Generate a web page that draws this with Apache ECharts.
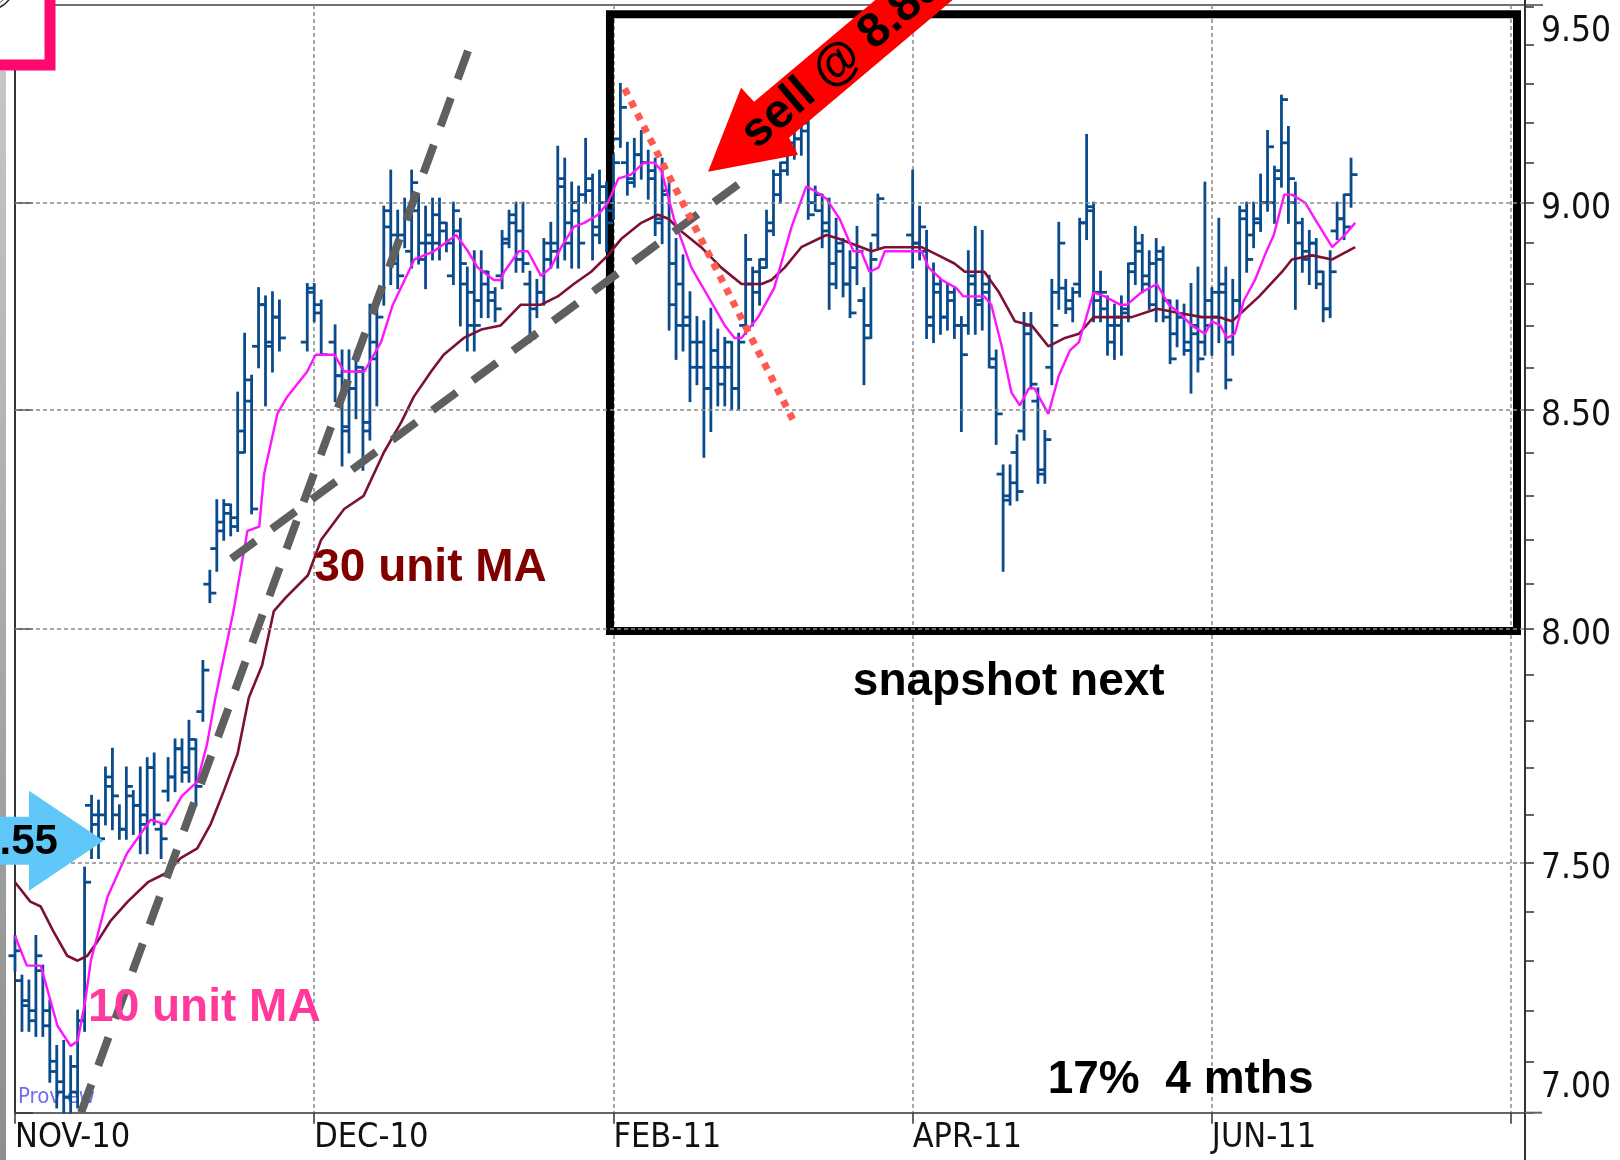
<!DOCTYPE html>
<html>
<head>
<meta charset="utf-8">
<title>ECharts</title>
<script src="https://cdn.jsdelivr.net/npm/echarts@6/dist/echarts.min.js"></script>
<style>
    html, body { margin: 0; padding: 0; background: #fff; }
    #main { width: 1620px; height: 1160px; }
</style>
</head>
<body>
<div id="main"></div>
<script type="text/javascript">
// x = bar number, a labelled tick every 43 bars
var tickLabels = ['NOV-10', 'DEC-10', 'FEB-11', 'APR-11', 'JUN-11'];
var tickStep = 43;
var barSlots = 217;
var priceLabels = [7.00, 7.50, 8.00, 8.50, 9.00, 9.50];
var priceGrid = [7.50, 8.00, 8.50, 9.00];
var priceMinorTicks = [7.0, 7.1, 7.2, 7.3, 7.4, 7.5, 7.6, 7.7, 7.8, 7.9, 8.0, 8.1, 8.2,
    8.3, 8.4, 8.5, 8.6, 8.7, 8.8, 8.9, 9.0, 9.1, 9.2, 9.3, 9.4, 9.5];

// price bars (null = no bar that day)
var opens = [7.31, 7.26, 7.22, 7.20, 7.28, 7.20, 7.10, 7.06, 7.03, 7.04, 7.18,
    7.62, 7.60, 7.60, 7.66, 7.60, 7.57, 7.64, 7.62, 7.58, 7.70, 7.57, 7.65, 7.68, 7.74, 7.70, 7.74,
    7.82, 8.10, 8.18, 8.22, 8.26, 8.25, 8.45, 8.52, 8.65, 8.75, 8.66, 8.72, null, null, null,
    8.66, 8.78, 8.73, null, 8.66, 8.58, 8.45, 8.55, 8.59, 8.47, 8.62, 8.78, 8.94, 8.92, 8.92,
    8.88, 8.98, 8.86, 8.90, 8.90, 8.93, 8.82, 8.93, 8.80, 8.78, 8.76, 8.80, 8.78, 8.82, 8.91,
    8.97, 8.93, 8.80, 8.74, 8.78, 8.86, 8.88, 9.04, 8.90, 8.98, 9.02, 9.03, 8.94, 9.00, 8.98,
    9.16, 9.10, 9.06, 9.12, 9.10, 9.08, 8.96, 9.02, 8.85, 8.80, 8.72, 8.66, 8.66, 8.55, 8.60,
    8.60, 8.60, 8.55, 8.70, 8.80, 8.78, 8.86, 8.95, 9.02, 9.10, 9.14, 9.16, 9.18, 9.00, 8.98,
    8.95, 8.85, 8.88, 8.80, 8.84, 8.76, 8.70, 8.92, null, null, null, null,
    8.92, 8.90, 8.88, 8.72, 8.78, 8.72, 8.76, 8.70, 8.70, 8.82, 8.76, 8.78, 8.60, 8.35, 8.30,
    8.40, 8.45, 8.70, 8.52, 8.36, 8.60, 8.78, 8.79, 8.74, 8.80, 8.95, 8.98, 8.78, 8.74, 8.66,
    8.70, 8.74, 8.85, 8.88, 8.80, 8.75, 8.86, 8.72, 8.68, 8.72, 8.64, 8.70, 8.66, 8.70, 8.72,
    8.80, 8.66, 8.76, 8.96, 8.92, 8.95, 9.00, 9.00, 9.08, 9.15, 9.00, 8.95, 8.86, 8.90, 8.80,
    8.74, 8.93, 8.96, 9.02];
var highs = [7.35, 7.27, 7.26, 7.35, 7.29, 7.22, 7.13, 7.14, 7.11, 7.20, 7.49,
    7.64, 7.63, 7.70, 7.74, 7.62, 7.70, 7.65, 7.70, 7.72, 7.73, 7.58, 7.72, 7.76, 7.76, 7.80, 7.76,
    7.93, 8.13, 8.29, 8.29, 8.28, 8.54, 8.68, 8.58, 8.79, 8.77, 8.78, 8.76, null, null, null,
    8.80, 8.80, 8.76, null, 8.70, 8.64, 8.64, 8.64, 8.60, 8.75, 8.76, 8.99, 9.08, 8.98, 9.01,
    9.08, 9.02, 8.99, 9.01, 9.01, 8.95, 9.00, 8.96, 8.84, 8.88, 8.88, 8.83, 8.79, 8.93, 8.98,
    9.00, 9.00, 8.83, 8.81, 8.91, 8.95, 9.14, 9.11, 9.05, 9.04, 9.16, 9.07, 9.08, 9.05, 9.12,
    9.30, 9.15, 9.16, 9.18, 9.13, 9.11, 9.11, 9.06, 8.91, 8.87, 8.78, 8.72, 8.71, 8.74, 8.69,
    8.67, 8.66, 8.68, 8.92, 8.84, 8.86, 8.98, 9.08, 9.10, 9.17, 9.19, 9.22, 9.22, 9.04, 9.02,
    9.01, 8.96, 8.91, 8.88, 8.94, 8.79, 8.90, 9.02, null, null, null, null,
    9.08, 8.99, 8.93, 8.85, 8.81, 8.80, 8.79, 8.72, 8.88, 8.94, 8.93, 8.82, 8.64, 8.37, 8.37,
    8.44, 8.73, 8.73, 8.55, 8.45, 8.81, 8.95, 8.81, 8.79, 8.96, 9.17, 9.00, 8.83, 8.77, 8.75,
    8.77, 8.85, 8.94, 8.92, 8.88, 8.91, 8.89, 8.76, 8.76, 8.75, 8.80, 8.84, 9.05, 8.79, 8.96,
    8.84, 8.81, 8.99, 9.00, 9.00, 9.07, 9.18, 9.09, 9.27, 9.19, 9.05, 8.96, 8.93, 8.91, 8.83,
    8.88, 9.00, 9.02, 9.11];
var lows = [7.28, 7.16, 7.16, 7.15, 7.15, 7.06, 7.01, 7.00, 7.00, 7.01, 7.16,
    7.51, 7.51, 7.58, 7.57, 7.55, 7.55, 7.56, 7.52, 7.52, 7.58, 7.51, 7.63, 7.65, 7.67, 7.67, 7.62,
    7.80, 8.06, 8.13, 8.20, 8.21, 8.22, 8.40, 8.26, 8.60, 8.51, 8.59, 8.64, null, null, null,
    8.64, 8.71, 8.63, null, 8.52, 8.37, 8.40, 8.48, 8.36, 8.43, 8.51, 8.75, 8.80, 8.79, 8.89,
    8.84, 8.85, 8.79, 8.86, 8.86, 8.88, 8.80, 8.70, 8.64, 8.64, 8.72, 8.72, 8.71, 8.79, 8.89,
    8.83, 8.83, 8.66, 8.72, 8.75, 8.84, 8.84, 8.86, 8.84, 8.84, 9.00, 8.86, 8.90, 8.88, 8.96,
    9.14, 9.02, 9.04, 9.06, 9.01, 8.92, 8.90, 8.69, 8.62, 8.64, 8.52, 8.56, 8.39, 8.45, 8.51,
    8.51, 8.50, 8.50, 8.68, 8.70, 8.75, 8.84, 8.92, 9.00, 9.07, 9.11, 9.12, 8.96, 8.98, 8.89,
    8.74, 8.79, 8.77, 8.72, 8.80, 8.56, 8.67, 8.89, null, null, null, null,
    8.84, 8.86, 8.67, 8.66, 8.68, 8.69, 8.67, 8.45, 8.68, 8.68, 8.69, 8.60, 8.42, 8.13, 8.28,
    8.29, 8.43, 8.55, 8.33, 8.33, 8.56, 8.74, 8.73, 8.71, 8.77, 8.91, 8.71, 8.71, 8.63, 8.62,
    8.63, 8.71, 8.80, 8.78, 8.74, 8.71, 8.71, 8.61, 8.65, 8.63, 8.54, 8.59, 8.63, 8.63, 8.66,
    8.55, 8.63, 8.73, 8.83, 8.89, 8.93, 8.98, 8.95, 9.04, 8.95, 8.74, 8.83, 8.80, 8.79, 8.71,
    8.72, 8.91, 8.91, 8.99];
var closes = [7.32, 7.21, 7.18, 7.31, 7.17, 7.08, 7.04, 7.03, 7.09, 7.18, 7.46,
    7.58, 7.55, 7.68, 7.64, 7.57, 7.66, 7.62, 7.60, 7.70, 7.60, 7.55, 7.68, 7.74, 7.69, 7.76, 7.66,
    7.91, 8.08, 8.24, 8.28, 8.23, 8.40, 8.57, 8.27, 8.75, 8.65, 8.72, 8.67, null, null, null,
    8.79, 8.75, 8.63, null, 8.58, 8.46, 8.55, 8.60, 8.45, 8.66, 8.72, 8.98, 8.85, 8.82, 8.96,
    9.05, 8.90, 8.92, 8.97, 8.95, 8.90, 8.98, 8.85, 8.70, 8.70, 8.83, 8.76, 8.74, 8.90, 8.95,
    8.86, 8.85, 8.67, 8.78, 8.90, 8.90, 9.06, 8.95, 9.00, 8.90, 9.06, 8.92, 9.04, 8.95, 9.10,
    9.24, 9.05, 9.12, 9.10, 9.06, 8.95, 9.03, 8.75, 8.70, 8.70, 8.60, 8.60, 8.55, 8.64, 8.56,
    8.66, 8.55, 8.66, 8.86, 8.83, 8.84, 8.93, 9.07, 9.08, 9.15, 9.16, 9.20, 8.97, 9.02, 8.93,
    8.80, 8.90, 8.80, 8.73, 8.88, 8.67, 8.86, 9.01, null, null, null, null,
    8.90, 8.94, 8.70, 8.80, 8.72, 8.78, 8.70, 8.63, 8.80, 8.75, 8.80, 8.62, 8.49, 8.29, 8.33,
    8.31, 8.68, 8.56, 8.35, 8.43, 8.70, 8.90, 8.76, 8.78, 8.95, 8.99, 8.76, 8.78, 8.70, 8.72,
    8.73, 8.83, 8.90, 8.82, 8.85, 8.88, 8.76, 8.62, 8.72, 8.66, 8.68, 8.62, 8.76, 8.78, 8.78,
    8.57, 8.76, 8.98, 8.86, 8.96, 9.00, 9.14, 9.06, 9.26, 9.06, 8.90, 8.88, 8.90, 8.83, 8.74,
    8.83, 8.96, 8.94, 9.07];

// moving averages: [bar, price]
var ma10 = [[0, 7.35], [1.7, 7.29], [3.7, 7.29], [6.1, 7.17], [8.0, 7.13], [9.0, 7.14], [10.1, 7.22],
    [10.9, 7.30], [13.3, 7.43], [16.1, 7.52], [19.5, 7.59], [21.6, 7.58], [24.0, 7.64], [26.2, 7.67],
    [27.6, 7.75], [28.8, 7.85], [31.4, 8.04], [33.4, 8.22], [35.1, 8.23], [35.8, 8.35], [37.7, 8.49],
    [39.1, 8.53], [42.0, 8.59], [43.2, 8.63], [45.9, 8.63], [47.3, 8.59], [50.2, 8.59], [52.6, 8.66],
    [54.3, 8.75], [57.4, 8.86], [60.2, 8.88], [63.4, 8.92], [65.1, 8.88], [66.5, 8.84], [68.8, 8.81],
    [69.8, 8.81], [70.3, 8.83], [72.4, 8.88], [73.7, 8.88], [75.6, 8.82], [77.0, 8.84], [78.5, 8.89],
    [80.3, 8.94], [81.8, 8.95], [83.8, 8.97], [85.2, 9.00], [86.7, 9.06], [88.5, 9.07], [90.4, 9.10],
    [91.9, 9.10], [92.9, 9.08], [94.7, 8.96], [97.2, 8.84], [99.6, 8.77], [102.0, 8.70], [103.4, 8.67],
    [104.4, 8.67], [106.8, 8.72], [109.1, 8.79], [111.6, 8.94], [113.7, 9.04], [114.9, 9.03],
    [116.6, 9.01], [118.5, 8.96], [120.5, 8.88], [121.6, 8.88], [122.8, 8.83], [124.1, 8.84],
    [125.0, 8.88], [130.3, 8.88], [131.3, 8.84], [133.2, 8.81], [135.3, 8.79], [136.3, 8.77],
    [139.3, 8.77], [140.3, 8.75], [141.8, 8.65], [143.2, 8.54], [144.4, 8.51], [145.7, 8.55],
    [146.5, 8.55], [148.5, 8.49], [150.0, 8.58], [151.6, 8.64], [152.9, 8.66], [155.0, 8.78],
    [156.6, 8.77], [158.8, 8.75], [159.8, 8.75], [161.9, 8.78], [164.1, 8.80], [165.8, 8.75],
    [167.3, 8.73], [169.1, 8.70], [171.0, 8.68], [172.0, 8.71], [173.2, 8.70], [174.2, 8.67],
    [175.3, 8.68], [176.6, 8.76], [178.2, 8.81], [179.6, 8.87], [180.9, 8.92], [182.4, 9.02],
    [183.5, 9.02], [185.4, 9.00], [186.8, 8.96], [189.3, 8.89], [191.1, 8.92], [192.6, 8.95]];
var ma30 = [[0, 7.46], [2.2, 7.42], [3.7, 7.41], [5.5, 7.36], [7.5, 7.31], [9.0, 7.30], [10.4, 7.31],
    [11.9, 7.34], [13.7, 7.38], [16.2, 7.42], [19.1, 7.46], [21.9, 7.48], [23.8, 7.51], [26.2, 7.53],
    [28.1, 7.58], [30.0, 7.65], [32.0, 7.73], [33.6, 7.85], [35.5, 7.92], [37.2, 8.04], [38.9, 8.07],
    [42.1, 8.12], [44.0, 8.20], [47.3, 8.27], [50.1, 8.30], [53.0, 8.40], [55.5, 8.47], [57.3, 8.53],
    [59.8, 8.59], [61.6, 8.63], [64.5, 8.67], [67.0, 8.69], [69.8, 8.70], [72.7, 8.75], [75.6, 8.75],
    [78.0, 8.77], [80.3, 8.80], [82.8, 8.83], [85.2, 8.87], [87.1, 8.91], [90.0, 8.95], [92.4, 8.97],
    [93.9, 8.96], [95.7, 8.93], [98.6, 8.89], [101.5, 8.84], [104.4, 8.80], [107.3, 8.80],
    [108.7, 8.81], [110.6, 8.84], [113.0, 8.89], [116.6, 8.92], [118.5, 8.91], [121.6, 8.89],
    [123.1, 8.88], [125.0, 8.89], [130.3, 8.89], [132.7, 8.87], [135.0, 8.85], [136.5, 8.83],
    [139.3, 8.83], [141.4, 8.78], [143.7, 8.71], [146.1, 8.70], [148.5, 8.65], [150.9, 8.67],
    [152.9, 8.68], [155.0, 8.72], [160.5, 8.72], [164.1, 8.74], [167.3, 8.73], [170.6, 8.72],
    [173.0, 8.72], [174.9, 8.71], [178.8, 8.77], [182.1, 8.83], [183.5, 8.86], [186.4, 8.87],
    [189.3, 8.86], [192.6, 8.89]];

// hand drawn lines and the box, in [bar, price]
var trendSteep = [[9.5, 7.0], [66.0, 9.43]];
var trendBase = [[31.1, 8.157], [105.2, 9.062]];
var trendDown = [[87.6, 9.288], [111.9, 8.473]];
var snapshotBox = [[85.5, 9.481], [215.85, 7.996]];

var narrowFont = '"Liberation Sans Narrow", "Arial Narrow", "DejaVu Sans Condensed", sans-serif';
var boldFont = '"Liberation Sans", Arial, Helvetica, sans-serif';
var barColor = '#0a4b8c';

var ohlcData = [];
for (var i = 0; i < opens.length; i++) {
    if (opens[i] == null) continue;
    ohlcData.push([i, opens[i], highs[i], lows[i], closes[i]]);
}

function renderBar(params, api) {
    var x = api.value(0);
    var o = api.coord([x, api.value(1)]);
    var h = api.coord([x, api.value(2)]);
    var l = api.coord([x, api.value(3)]);
    var c = api.coord([x, api.value(4)]);
    var st = { stroke: barColor, lineWidth: 2.8 };
    return {
        type: 'group',
        children: [
            { type: 'line', shape: { x1: h[0], y1: h[1] - 1, x2: l[0], y2: l[1] + 1 }, style: st },
            { type: 'line', shape: { x1: o[0] - 6.5, y1: o[1], x2: o[0], y2: o[1] }, style: st },
            { type: 'line', shape: { x1: c[0], y1: c[1], x2: c[0] + 6.5, y2: c[1] }, style: st }
        ]
    };
}

function yLabel(v) {
    var s = v.toFixed(2);
    if (v > 9.4) return '{t|' + s + '}';
    if (v < 7.1) return '{b|' + s + '}';
    return '{m|' + s + '}';
}
var yRichBase = { fontSize: 35, fontFamily: narrowFont, color: '#111' };

var myChart = echarts.init(document.getElementById('main'));
var option = {
    animation: false,
    backgroundColor: '#fff',
    grid: {
        left: 15, top: 5, width: 1510, height: 1107.7,
        containLabel: false, outerBoundsMode: 'none',
        show: true, borderColor: '#444', borderWidth: 1.5, backgroundColor: '#fff'
    },
    xAxis: {
        type: 'value', min: 0, max: barSlots, interval: tickStep,
        axisLine: { onZero: false, lineStyle: { color: '#666', width: 2 } },
        axisTick: { length: 11, lineStyle: { color: '#333', width: 1.5 } },
        axisLabel: {
            margin: 8, align: 'left', fontSize: 34, fontFamily: narrowFont, color: '#111',
            formatter: function (v) {
                var k = Math.round(v / tickStep);
                return (Math.abs(v - k * tickStep) < 0.01 && k < tickLabels.length) ? tickLabels[k] : '';
            }
        },
        splitLine: { show: true, lineStyle: { type: [4, 3], color: '#8a8a8a', width: 1.5 } }
    },
    yAxis: [{
        type: 'log', logBase: 10, min: 6.9999, max: 9.505, position: 'right',
        axisLine: { show: true, lineStyle: { color: '#333', width: 2 } },
        axisTick: { show: true, customValues: priceLabels, length: 18, lineStyle: { color: '#333', width: 1.5 } },
        axisLabel: {
            show: true, customValues: priceLabels, margin: 16, formatter: yLabel,
            fontSize: 35, fontFamily: narrowFont, color: '#111',
            rich: {
                m: Object.assign({ padding: [12, 0, 0, 0] }, yRichBase),
                t: Object.assign({ padding: [50, 0, 0, 0] }, yRichBase),
                b: Object.assign({ padding: [0, 0, 50, 0] }, yRichBase)
            }
        },
        splitLine: { show: false }
    }, {
        type: 'log', logBase: 10, min: 6.9999, max: 9.505, position: 'right',
        axisLine: { show: false },
        axisTick: { show: true, customValues: priceMinorTicks, length: 9, lineStyle: { color: '#333', width: 1.5 } },
        axisLabel: { show: false },
        splitLine: { show: false }
    }],
    series: [{
        name: 'grid', type: 'line', data: [], z: 1, silent: true,
        markLine: {
            silent: true, symbol: 'none', label: { show: false },
            lineStyle: { type: [4, 3], color: '#8a8a8a', width: 1.5 },
            data: priceGrid.map(function (v) { return { yAxis: v }; })
        }
    }, {
        name: 'price', type: 'custom', renderItem: renderBar, data: ohlcData,
        encode: { x: 0, y: [1, 2, 3, 4] }, z: 2, silent: true
    }, {
        name: '30 unit MA', type: 'line', data: ma30, symbol: 'none', showSymbol: false, z: 3, silent: true,
        lineStyle: { color: '#7d1035', width: 2.6 }
    }, {
        name: '10 unit MA', type: 'line', data: ma10, symbol: 'none', showSymbol: false, z: 4, silent: true,
        lineStyle: { color: '#ff14ff', width: 2.4 }
    }, {
        name: 'trend 1', type: 'line', data: trendSteep, symbol: 'none', z: 5, silent: true,
        lineStyle: { color: '#5f5f5f', width: 8, type: [30, 20], cap: 'butt' }
    }, {
        name: 'trend 2', type: 'line', data: trendBase, symbol: 'none', z: 5, silent: true,
        lineStyle: { color: '#5f5f5f', width: 8, type: [30, 20], cap: 'butt' }
    }, {
        name: 'trend 3', type: 'line', data: trendDown, symbol: 'none', z: 5, silent: true,
        lineStyle: { color: '#ff5a4f', width: 7, type: [7, 7], cap: 'butt' }
    }, {
        name: 'box', type: 'line', data: [], z: 6, silent: true,
        markArea: {
            silent: true,
            itemStyle: { color: 'rgba(0,0,0,0)', borderColor: '#000', borderWidth: 8 },
            data: [[{ coord: snapshotBox[0] }, { coord: snapshotBox[1] }]]
        }
    }]
};
myChart.setOption(option);

function px(bar, price) {
    return myChart.convertToPixel({ xAxisIndex: 0, yAxisIndex: 0 }, [bar, price]);
}

var notes = [
    { text: '30 unit MA', at: [43, 8.135], color: '#800000' },
    { text: '10 unit MA', at: [10.5, 7.205], color: '#ff3a9a' },
    { text: 'snapshot next', at: [120.4, 7.884], color: '#000' },
    { text: '17%  4 mths', at: [148.4, 7.062], color: '#000' }
];

var els = [];
// left grey strip, pink frame and logo corner
els.push({ type: 'rect', z: 50, shape: { x: 0, y: 71, width: 6, height: 1089 },
    style: { fill: new echarts.graphic.LinearGradient(0, 0, 0, 1, [
        { offset: 0, color: '#c6c6c6' }, { offset: 1, color: '#8e8e8e' }]) } });
els.push({ type: 'rect', z: 90, shape: { x: -20, y: -20, width: 70, height: 85 },
    style: { fill: '#fff', stroke: '#ff0a6c', lineWidth: 11 } });
els.push({ type: 'circle', z: 91, shape: { cx: -15, cy: -20, r: 31 }, style: { fill: 'none', stroke: '#222', lineWidth: 1.5 } });
els.push({ type: 'circle', z: 91, shape: { cx: -15, cy: -20, r: 27 }, style: { fill: 'none', stroke: '#555', lineWidth: 1 } });
// axis line ends that run past the plot
els.push({ type: 'line', z: 40, shape: { x1: 1525, y1: 0, x2: 1525, y2: 1160 }, style: { stroke: '#333', lineWidth: 2 } });
els.push({ type: 'line', z: 40, shape: { x1: 1525, y1: 1112.7, x2: 1542, y2: 1112.7 }, style: { stroke: '#666', lineWidth: 2 } });
els.push({ type: 'line', z: 40, shape: { x1: 1525, y1: 5, x2: 1543, y2: 5 }, style: { stroke: '#444', lineWidth: 1.5 } });
els.push({ type: 'text', z: 1, x: 18, y: 1097,
    style: { text: 'Proview', fill: '#7070ee', font: '22px ' + narrowFont, align: 'left', verticalAlign: 'middle',
        textAlign: 'left', textVerticalAlign: 'middle' } });

notes.forEach(function (n) {
    var p = px(n.at[0], n.at[1]);
    els.push({ type: 'text', z: 60, x: p[0], y: p[1],
        style: { text: n.text, fill: n.color, font: 'bold 46px ' + boldFont,
            align: 'left', verticalAlign: 'middle', textAlign: 'left', textVerticalAlign: 'middle' } });
});

// blue entry arrow at 7.55
var bt = px(12.73, 7.546);
els.push({ type: 'polygon', z: 70, shape: { points: [
    [bt[0], bt[1]], [bt[0] - 74.6, bt[1] - 50], [bt[0] - 74.6, bt[1] - 24], [bt[0] - 150, bt[1] - 24],
    [bt[0] - 150, bt[1] + 24], [bt[0] - 74.6, bt[1] + 24], [bt[0] - 74.6, bt[1] + 50]] },
    style: { fill: '#5fc8f8' } });
els.push({ type: 'text', z: 71, x: bt[0] - 45.6, y: bt[1] + 2,
    style: { text: '7.55', fill: '#000', font: 'bold 42px ' + boldFont,
        align: 'right', verticalAlign: 'middle', textAlign: 'right', textVerticalAlign: 'middle' } });

// red sell arrow
var rt = px(99.6, 9.077);
var rp = [[0, 0], [33, -84], [46, -70], [277, -264], [310, -227], [81, -34], [90, -17]];
els.push({ type: 'polygon', z: 80, shape: { points: rp.map(function (q) { return [rt[0] + q[0], rt[1] + q[1]]; }) },
    style: { fill: '#ff0000' } });
els.push({ type: 'text', z: 81, x: rt[0] + 40, y: rt[1] - 32, rotation: 0.7025,
    style: { text: 'sell @ 8.85', fill: '#000', font: 'bold 48px ' + boldFont,
        align: 'left', verticalAlign: 'middle', textAlign: 'left', textVerticalAlign: 'middle' } });

myChart.setOption({ graphic: { elements: els } });
</script>
</body>
</html>
